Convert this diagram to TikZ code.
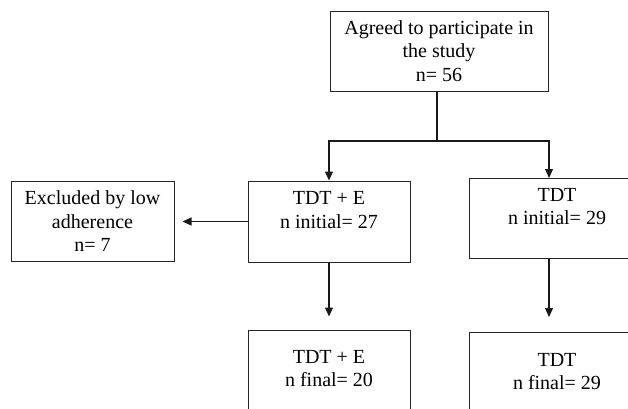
\documentclass[tikz,border=0pt]{standalone}
\usepackage{fontspec}
\setmainfont{Liberation Serif}
\usetikzlibrary{arrows.meta}

\tikzset{
  flowbox/.style = {draw=black!85, line width=1pt, align=center, inner sep=0pt,
                    font=\fontsize{20}{23.5}\selectfont},
  flowline/.style = {line width=1.2pt, draw=black!90},
  flowarrow/.style = {flowline, -{Triangle[length=9pt,width=8pt]}}
}

\begin{document}
\begin{tikzpicture}[x=1pt, y=-1pt]
\useasboundingbox (0,0) rectangle (628,408);
\node [flowbox, minimum width=218pt, minimum height=80pt] (agreed) at (439,51)
  {Agreed to participate in\\ the study\\ n= 56};
\node [flowbox, minimum width=163pt, minimum height=80pt] (excluded) at (92.5,221.5)
  {Excluded by low\\ adherence\\ n= 7};
\node [flowbox, minimum width=162pt, minimum height=81pt] (tdteinit) at (329,221.5)
  {TDT + E\\ n initial= 27\\ \mbox{}};
\node [flowbox, minimum width=176pt, minimum height=80pt] (tdtinit) at (557,218)
  {TDT\\ n initial= 29\\ \mbox{}};
\node [flowbox, minimum width=162pt, minimum height=100pt] (tdtefinal) at (329,380)
  {TDT + E\\ n final= 20\\ \mbox{}};
\node [flowbox, minimum width=176pt, minimum height=102pt] (tdtfinal) at (557,383)
  {TDT\\ n final= 29\\ \mbox{}};
\coordinate (fork) at (437,141);
\coordinate (tdtin) at (549,178);
\coordinate (tdtout) at (549,259);
\coordinate (tdtend) at (549,317);
% split of the sample
\draw [flowline] (agreed.south -| fork) -- (fork);
\draw [flowarrow] (fork) -| (tdteinit.north);
\draw [flowarrow] (fork) -| (tdtin);
% exclusions
\draw [flowarrow, shorten >=8pt] (tdteinit.west) -- (excluded.east);
% final groups
\draw [flowarrow, shorten >=13pt] (tdteinit.south) -- (tdtefinal.north);
\draw [flowarrow] (tdtout) -- (tdtend);
\end{tikzpicture}
\end{document}
